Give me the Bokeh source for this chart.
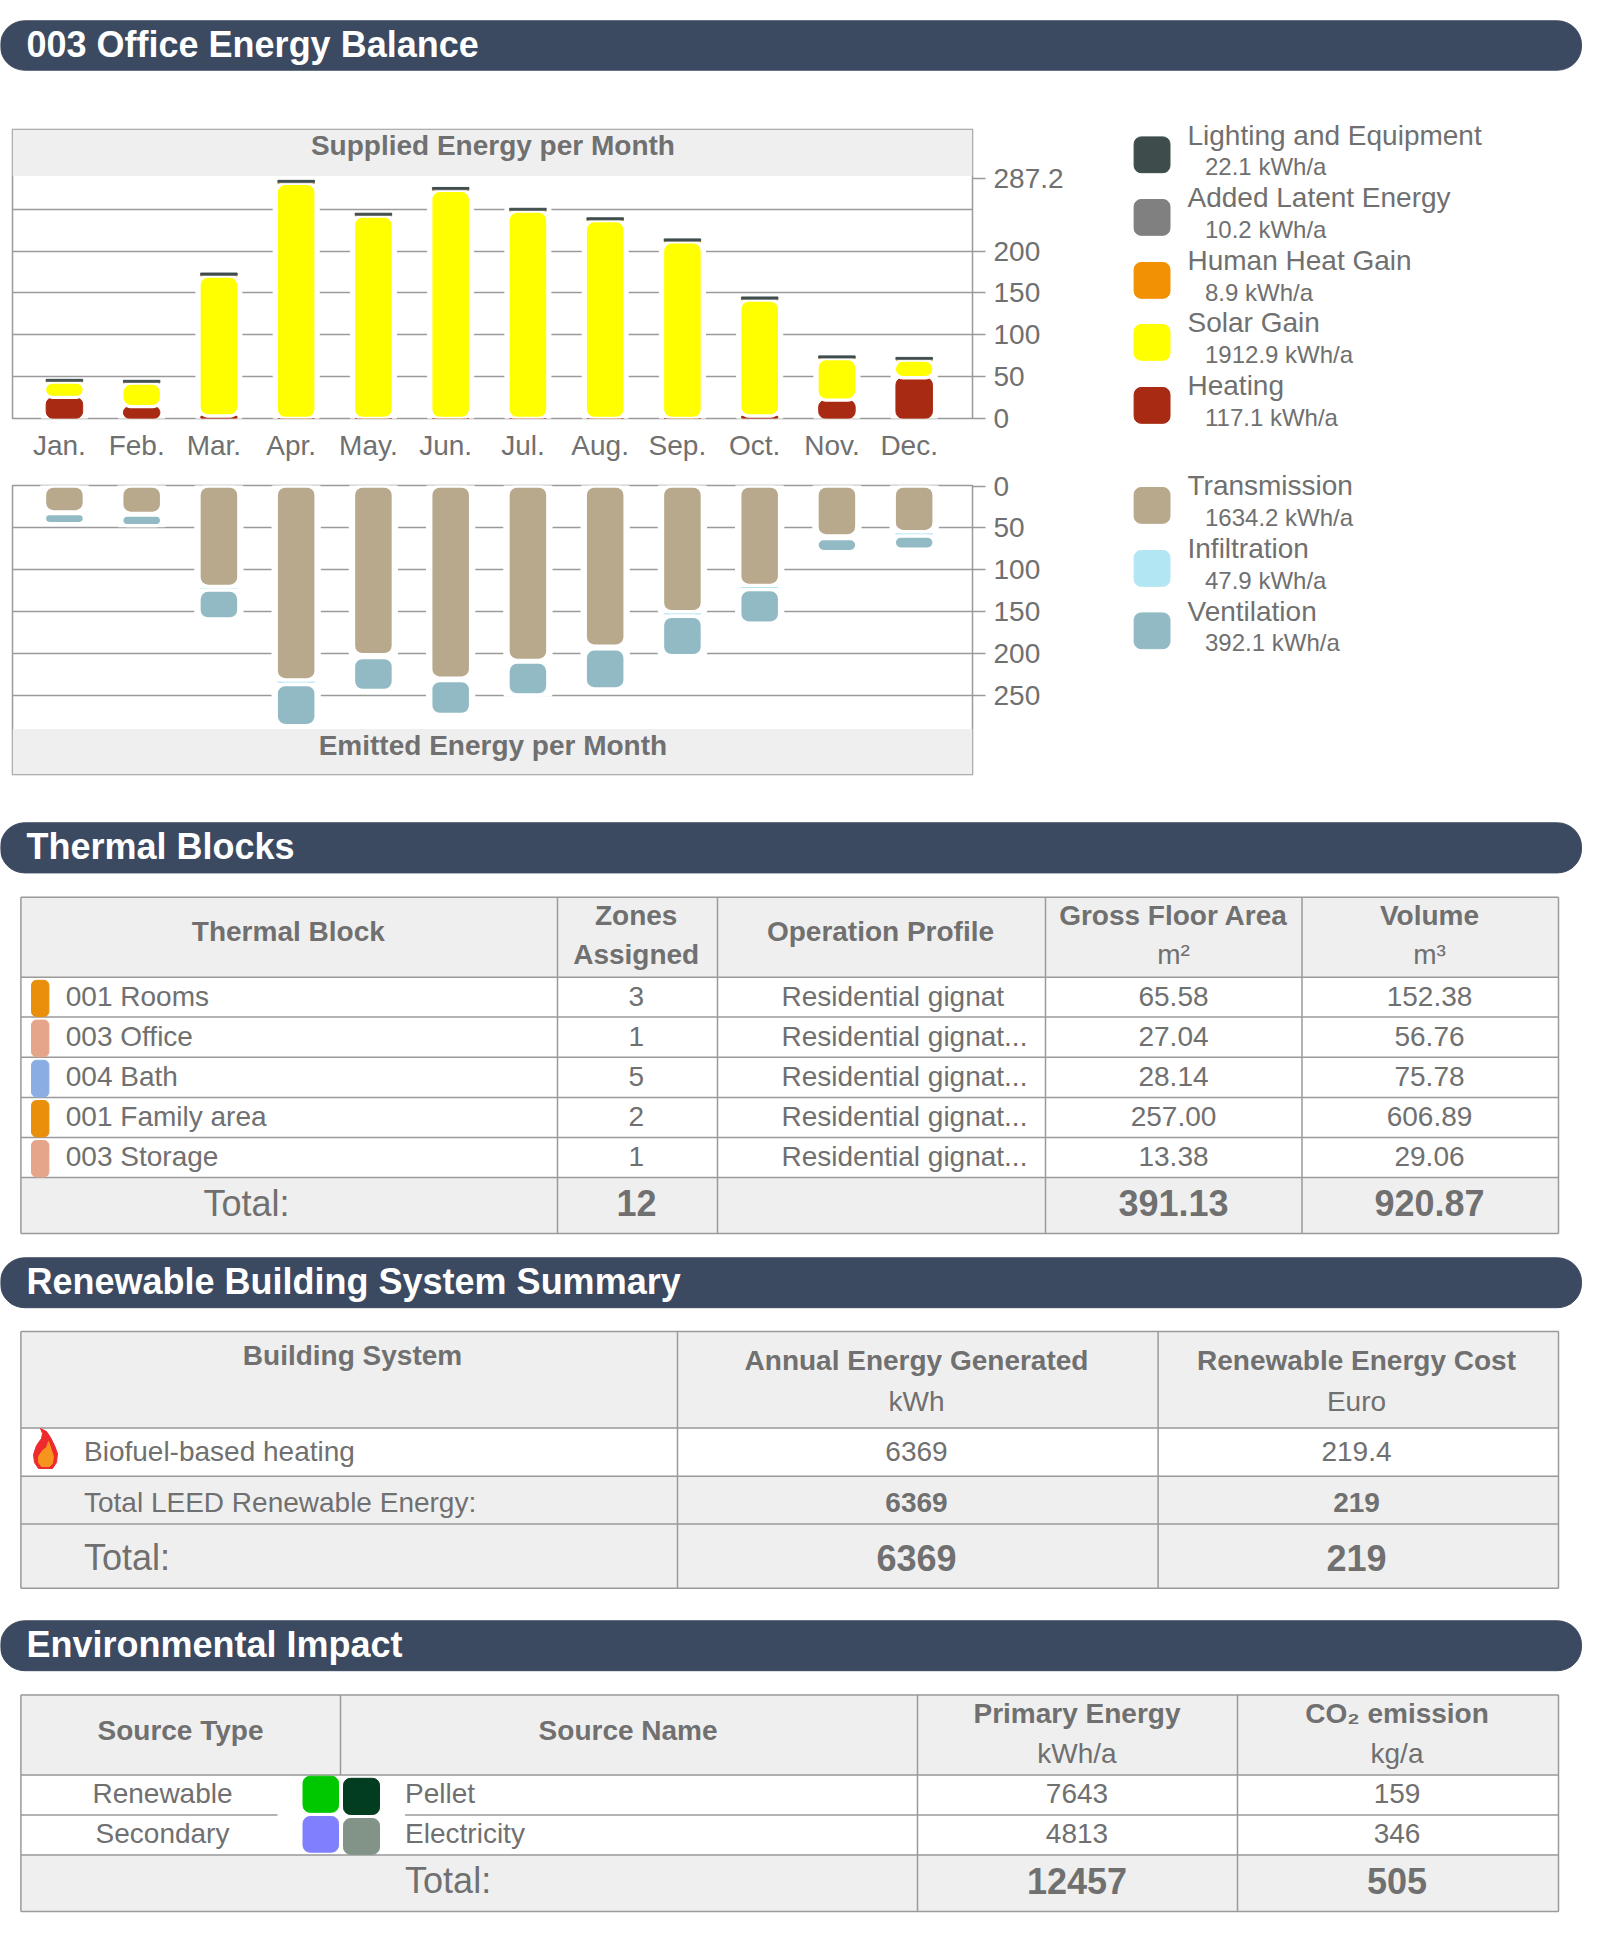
from bokeh.plotting import figure
from bokeh.layouts import column, row
from bokeh.models import Range1d, LinearAxis, FixedTicker, Label, BoxAnnotation
from bokeh.core.properties import value
from bokeh.embed import file_html
from bokeh.resources import INLINE

# ------------------ data ------------------
months = ["Jan.", "Feb.", "Mar.", "Apr.", "May.", "Jun.", "Jul.", "Aug.", "Sep.", "Oct.", "Nov.", "Dec."]
heating = [25.3, 14.3, 3.0, 0, 0, 0, 0, 0, 0, 3.0, 22.0, 48.7]
solar = [18.2, 28.0, 167.2, 281.0, 242.0, 272.5, 247.8, 236.5, 211.0, 138.6, 49.5, 21.0]
human = [0.7, 0.7, 0.8, 0.8, 0.7, 0.8, 0.7, 0.7, 0.8, 0.8, 0.7, 0.7]
latent = [0.8, 0.8, 0.9, 0.9, 0.8, 0.9, 0.9, 0.8, 0.9, 0.9, 0.8, 0.8]
lighting = [1.8, 1.8, 1.9, 1.9, 1.8, 1.9, 1.8, 1.8, 1.9, 1.9, 1.8, 1.8]
transmission = [30.8, 32.7, 119.7, 231.4, 201.3, 229.3, 208.0, 191.0, 150.0, 118.5, 59.4, 54.5]
infiltration = [2.2, 2.1, 4.6, 5.5, 3.4, 2.8, 2.2, 3.3, 5.4, 5.2, 3.4, 5.3]
ventilation = [11.8, 12.5, 34.4, 49.0, 39.3, 40.5, 39.2, 47.8, 47.1, 39.9, 15.5, 15.5]

supply_ticks = [0, 50, 100, 150, 200, 287.2]
supply_grid = [50, 100, 150, 200, 250]
emit_ticks = [0, 50, 100, 150, 200, 250]

legend_names = ["Lighting and Equipment", "Added Latent Energy", "Human Heat Gain", "Solar Gain", "Heating",
                "Transmission", "Infiltration", "Ventilation"]
legend_values = ["22.1 kWh/a", "10.2 kWh/a", "8.9 kWh/a", "1912.9 kWh/a", "117.1 kWh/a",
                 "1634.2 kWh/a", "47.9 kWh/a", "392.1 kWh/a"]
legend_colors = ["#3e4c4c", "#808080", "#f29104", "#ffff00", "#a82a12", "#b8a88c", "#b3e6f3", "#92bac5"]

block_names = ["001 Rooms", "003 Office", "004 Bath", "001 Family area", "003 Storage"]
block_colors = ["#e98f0c", "#e5a58a", "#8aaee3", "#e98f0c", "#e5a58a"]
block_zones = ["3", "1", "5", "2", "1"]
block_profile = ["Residential gignat", "Residential gignat...", "Residential gignat...", "Residential gignat...",
                 "Residential gignat..."]
block_area = ["65.58", "27.04", "28.14", "257.00", "13.38"]
block_volume = ["152.38", "56.76", "75.78", "606.89", "29.06"]

source_types = ["Renewable", "Secondary"]
source_names = ["Pellet", "Electricity"]
source_primary = ["7643", "4813"]
source_co2 = ["159", "346"]

# ------------------ style ------------------
FONT = value("Liberation Sans")
TXT = "#707070"
LINE = "#9a9a9a"
BAND = "#efefef"
NAVY = "#3b4a60"
GRID = "#9a9a9a"
PX_PER_UNIT = 0.838
STEP = 77.25


def blank(w, h, xr, yr):
    p = figure(width=w, height=h, x_range=xr, y_range=yr, x_axis_type=None, y_axis_type=None,
               toolbar_location=None, output_backend="svg", min_border=0, outline_line_color=None)
    p.grid.visible = False
    return p


def txt(p, x, y, s, size=28, bold=False, align="center", color=TXT):
    p.text([x - 1], [y - 1], text=[s], text_font=FONT, text_font_size=f"{size}px",
           text_font_style="bold" if bold else "normal", text_color=color,
           text_align=align, text_baseline="middle")


def banner(p, y0, y1, s):
    p.hbar(y=[(y0 + y1) / 2], height=y1 - y0 - 0.6, left=[-1], right=[1581], color=NAVY, border_radius=24)
    txt(p, 27, (y0 + y1) / 2 - 0.5, s, size=36, bold=True, align="left", color="white")


def cum(*series):
    out = [0.0] * len(series[0])
    for s in series:
        out = [a + b for a, b in zip(out, s)]
    return out


idx = list(range(12))
X0 = -0.672
X1 = 11.755
LABEL_SHIFT = 5 / STEP


def chart(h, top_border, bot_border, yr, ticks, grid_ticks):
    p = figure(width=1080, height=h, x_range=Range1d(X0, X1), y_range=yr, x_axis_type=None,
               y_axis_location="right", toolbar_location=None, output_backend="svg",
               min_border_left=12, min_border_right=108, min_border_top=top_border, min_border_bottom=bot_border,
               outline_line_color=LINE, outline_line_width=1.5, background_fill_color="white")
    ax = p.yaxis[0]
    ax.ticker = FixedTicker(ticks=ticks)
    ax.major_label_overrides = {t: str(t) for t in ticks}
    ax.axis_line_color = None
    ax.minor_tick_line_color = None
    ax.major_tick_in = 0
    ax.major_tick_out = 13
    ax.major_tick_line_color = GRID
    ax.major_tick_line_width = 1.3
    ax.major_label_standoff = 8
    ax.major_label_text_font = "Liberation Sans"
    ax.major_label_text_font_size = "28px"
    ax.major_label_text_color = TXT
    ax.major_label_text_font_style = "normal"
    p.ygrid.ticker = FixedTicker(ticks=grid_ticks)
    p.ygrid.grid_line_color = GRID
    p.ygrid.grid_line_width = 1.3
    return p


BAR_W = 39.8 / STEP
VIS_W = 36.5 / STEP
BACK_W = 46 / STEP
STROKE = 3.3

# ---- supply chart ----
sup_yr = Range1d(0, 289.4 / PX_PER_UNIT)
sup = chart(350, 9, 52, sup_yr, supply_ticks, supply_grid)
sup.add_layout(BoxAnnotation(bottom=289.9, top=sup_yr.end, fill_color=BAND, fill_alpha=1, line_alpha=0, level="underlay"))
s1 = cum(heating, solar)
s2 = cum(heating, solar, human)
s3 = cum(heating, solar, human, latent)
s4 = cum(heating, solar, human, latent, lighting)
sup.vbar(x=idx, bottom=0, top=s4, width=BACK_W, color="white")
sup.vbar(x=idx, bottom=0, top=heating, width=VIS_W, color="#a82a12", border_radius=7)
sup.vbar(x=idx, bottom=s1, top=s2, width=VIS_W, color="#f29104")
sup.vbar(x=idx, bottom=heating, top=s1, width=BAR_W, fill_color="#ffff00", line_color="white",
         line_width=STROKE, border_radius=9)
sup.vbar(x=idx, bottom=s2, top=s3, width=VIS_W, color="#808080")
sup.vbar(x=idx, bottom=s3, top=s4, width=VIS_W, color="#3e4c4c")

lab_rng = Range1d(X0 + LABEL_SHIFT, X1 + LABEL_SHIFT)
sup.extra_x_ranges = {"labels": lab_rng}
mx = LinearAxis(x_range_name="labels", ticker=FixedTicker(ticks=idx),
                major_label_overrides={i: m for i, m in zip(idx, months)})
mx.axis_line_color = None
mx.major_tick_line_color = None
mx.minor_tick_line_color = None
mx.major_label_standoff = 5
mx.major_label_text_font = "Liberation Sans"
mx.major_label_text_font_size = "28px"
mx.major_label_text_color = TXT
sup.add_layout(mx, "below")


def xv(px):
    return (px - 64.5) / STEP


sup.add_layout(Label(x=xv(493), y=(418.4 - 145) / PX_PER_UNIT, text="Supplied Energy per Month",
                     text_font="Liberation Sans", text_font_size="28px", text_font_style="bold",
                     text_color=TXT, text_align="center", text_baseline="middle"))
sup.add_layout(Label(x=xv(993), y=(418.4 - 445) / PX_PER_UNIT, text="[kWh]",
                     text_font="Liberation Sans", text_font_size="28px",
                     text_color=TXT, text_align="left", text_baseline="middle"))

# ---- emitted chart ----
emi_yr = Range1d((774 - 485.5) / PX_PER_UNIT, -0.6)
emi = chart(320, 15, 16, emi_yr, emit_ticks, [50, 100, 150, 200, 250])
emi.add_layout(BoxAnnotation(bottom=290, top=emi_yr.start, fill_color=BAND, fill_alpha=1, line_alpha=0, level="underlay"))
e1 = transmission
e2 = cum(transmission, infiltration)
e3 = cum(transmission, infiltration, ventilation)
emi.vbar(x=idx, bottom=0, top=e3, width=BACK_W, color="white")
emi.vbar(x=idx, bottom=e1, top=e2, width=VIS_W, color="#b3e6f3")
# square white masks so the thin infiltration strip does not show round the rounded corners
emi.vbar(x=idx, bottom=0, top=e1, width=BACK_W, fill_color="white", line_color="white", line_width=STROKE)
emi.vbar(x=idx, bottom=e2, top=e3, width=BACK_W, fill_color="white", line_color="white", line_width=STROKE)
emi.vbar(x=idx, bottom=0, top=e1, width=BAR_W, fill_color="#b8a88c", line_color="white",
         line_width=STROKE, border_radius=9)
emi.vbar(x=idx, bottom=e2, top=e3, width=BAR_W, fill_color="#92bac5", line_color="white",
         line_width=STROKE, border_radius=9)
emi.add_layout(Label(x=xv(493), y=(745 - 485.5) / PX_PER_UNIT, text="Emitted Energy per Month",
                     text_font="Liberation Sans", text_font_size="28px", text_font_style="bold",
                     text_color=TXT, text_align="center", text_baseline="middle"))

# ---- header and legend ----
head = blank(1600, 120, Range1d(0, 1600), Range1d(120, 0))
banner(head, 20, 70, "003 Office Energy Balance")

leg = blank(520, 670, Range1d(1080, 1600), Range1d(790, 120))
leg_top = [136.4, 199, 262, 324, 387, 487, 550, 612.4]
for name, val, col, t in zip(legend_names, legend_values, legend_colors, leg_top):
    leg.quad(left=[1133.6], right=[1169.5], top=[t], bottom=[t + 35.8], color=col, border_radius=7)
    txt(leg, 1188, t - 0.8, name, align="left")
    txt(leg, 1205.5, t + 30.6, val, size=24, align="left")

# ---- tables ----
rest = blank(1600, 1154, Range1d(0, 1600), Range1d(1944, 790))
L, R = 20.4, 1558


def hline(y, a=L, b=R, w=1.5):
    rest.segment([a], [y], [b], [y], line_color=LINE, line_width=w)


def vline(x, a, b):
    rest.segment([x], [a], [x], [b], line_color=LINE, line_width=1.5)


def band(a, b):
    rest.quad(left=[L], right=[R], top=[a], bottom=[b], color=BAND)


# Thermal blocks
banner(rest, 822, 872.7, "Thermal Blocks")
t1 = [896.8, 976.8, 1016.6, 1056.8, 1097, 1137, 1177, 1233]
band(t1[0], t1[1])
band(t1[6], t1[7])
for y in t1:
    hline(y)
for x in [L, 557, 717, 1045, 1301.5, R]:
    vline(x, t1[0], t1[-1])
txt(rest, 288.8, 932, "Thermal Block", bold=True)
txt(rest, 636.7, 915.6, "Zones", bold=True)
txt(rest, 636.7, 955.4, "Assigned", bold=True)
txt(rest, 881, 932, "Operation Profile", bold=True)
txt(rest, 1174, 915.6, "Gross Floor Area", bold=True)
txt(rest, 1174, 955.4, "m²")
txt(rest, 1430, 915.6, "Volume", bold=True)
txt(rest, 1430, 955.4, "m³")
for i in range(5):
    top, bot = t1[i + 1], t1[i + 2]
    y = (top + bot) / 2
    rest.quad(left=[31], right=[48.4], top=[top + 3], bottom=[bot - 0.5], color=block_colors[i], border_radius=5)
    txt(rest, 66.3, y, block_names[i], align="left")
    txt(rest, 636.7, y, block_zones[i])
    txt(rest, 782, y, block_profile[i], align="left")
    txt(rest, 1174, y, block_area[i])
    txt(rest, 1430, y, block_volume[i])
txt(rest, 247, 1203.7, "Total:", size=36)
txt(rest, 637, 1203.7, "12", size=36, bold=True)
txt(rest, 1174, 1203.7, "391.13", size=36, bold=True)
txt(rest, 1430, 1203.7, "920.87", size=36, bold=True)

# Renewable systems
banner(rest, 1257, 1307.5, "Renewable Building System Summary")
t2 = [1331, 1427.4, 1475.7, 1523.6, 1587.8]
band(t2[0], t2[1])
band(t2[2], t2[4])
for y in t2:
    hline(y)
for x in [L, 677, 1157.6, R]:
    vline(x, t2[0], t2[-1])
txt(rest, 353, 1355.7, "Building System", bold=True)
txt(rest, 917, 1361.4, "Annual Energy Generated", bold=True)
txt(rest, 917, 1402, "kWh")
txt(rest, 1357, 1361.4, "Renewable Energy Cost", bold=True)
txt(rest, 1357, 1402, "Euro")
txt(rest, 84.5, 1452, "Biofuel-based heating", align="left")
txt(rest, 917, 1452, "6369")
txt(rest, 1357, 1452, "219.4")
txt(rest, 84.5, 1502.8, "Total LEED Renewable Energy:", align="left")
txt(rest, 917, 1502.8, "6369", bold=True)
txt(rest, 1357, 1502.8, "219", bold=True)
txt(rest, 84.5, 1558, "Total:", size=36, align="left")
txt(rest, 917, 1558, "6369", size=36, bold=True)
txt(rest, 1357, 1558, "219", size=36, bold=True)
rest.patch([40, 46, 50, 54, 57, 56, 52, 38, 34, 33, 36, 41, 42],
           [1428, 1431, 1437, 1445, 1453, 1462, 1468, 1468, 1462, 1454, 1445, 1438, 1433], color="#ee2a2f")
rest.patch([48, 51, 53, 52, 49, 41, 38, 38, 42, 46],
           [1441, 1450, 1456, 1463, 1466, 1466, 1462, 1456, 1450, 1447], color="#f7941d")

# Environmental impact
banner(rest, 1620, 1670.5, "Environmental Impact")
t3 = [1694.4, 1774.6, 1814.6, 1854.5, 1911]
band(t3[0], t3[1])
band(t3[3], t3[4])
hline(t3[0])
hline(t3[1])
hline(t3[2], L, 277)
hline(t3[2], 404.6, R)
hline(t3[3])
hline(t3[4])
vline(L, t3[0], t3[4])
vline(R, t3[0], t3[4])
vline(340, t3[0], t3[1])
for x in [917, 1237]:
    vline(x, t3[0], t3[4])
txt(rest, 181, 1730.6, "Source Type", bold=True)
txt(rest, 628.6, 1730.6, "Source Name", bold=True)
txt(rest, 1077.5, 1714, "Primary Energy", bold=True)
txt(rest, 1077.5, 1754, "kWh/a")
txt(rest, 1397.5, 1714, "CO₂ emission", bold=True)
txt(rest, 1397.5, 1754, "kg/a")
for i, y in enumerate([1794, 1834]):
    txt(rest, 163, y, source_types[i])
    txt(rest, 405.6, y, source_names[i], align="left")
    txt(rest, 1077.5, y, source_primary[i])
    txt(rest, 1397.5, y, source_co2[i])
for l, r, a, b, c in [(302.5, 338, 1775.7, 1811.8, "#00c800"), (343, 379, 1777.8, 1814, "#023d20"),
                      (302.5, 338, 1816, 1851.7, "#8080ff"), (343, 379, 1818, 1853.8, "#829488")]:
    rest.quad(left=[l], right=[r], top=[a], bottom=[b], color=c, border_radius=7)
txt(rest, 405.6, 1881, "Total:", size=36, align="left")
txt(rest, 1077.5, 1881, "12457", size=36, bold=True)
txt(rest, 1397.5, 1881, "505", size=36, bold=True)

page = column(head, row(column(sup, emi), leg), rest)
open("out.html", "w").write(file_html(page, INLINE))
